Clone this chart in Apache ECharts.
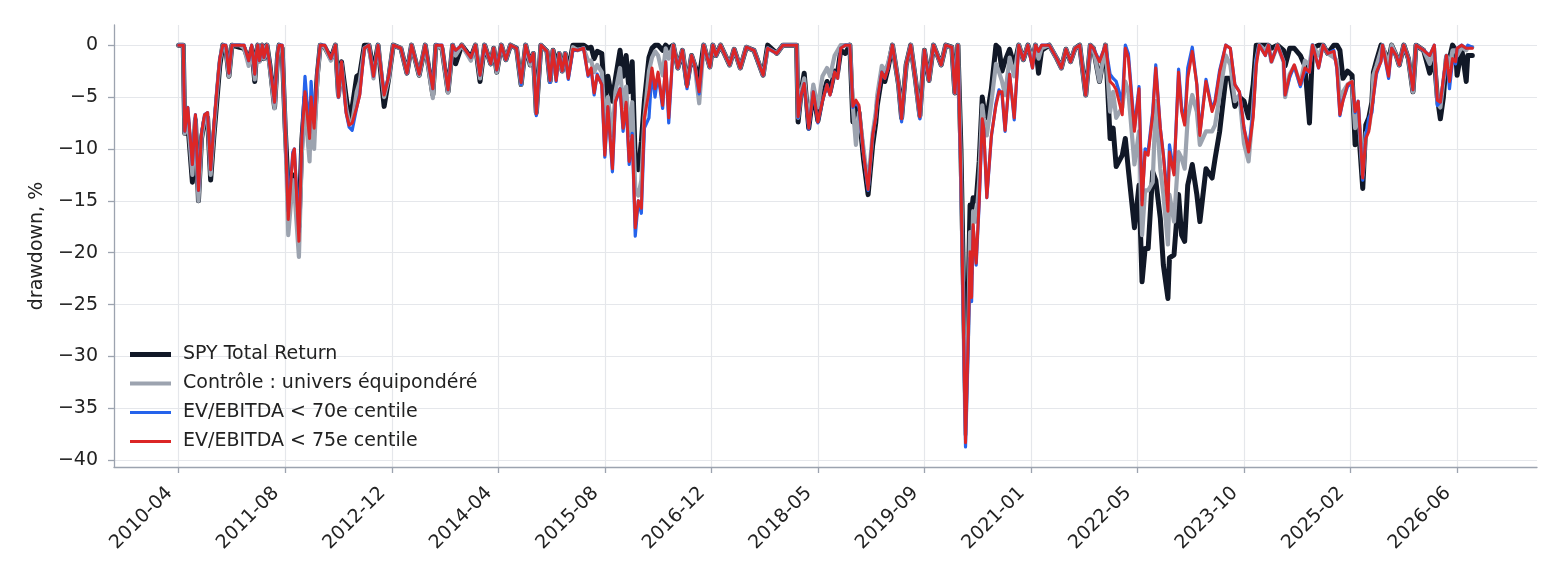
<!DOCTYPE html>
<html>
<head>
	<meta http-equiv="Content-Type" content="text/html; charset=utf-8" />
	<title>drawdown</title>
	<style>
		html, body { margin: 0; padding: 0; background: #fff; }
		#main { width: 1563px; height: 578px; }
	</style>
</head>
<body>
	<div id="main"></div>
	<script src="https://cdn.jsdelivr.net/npm/echarts@6.0.0/dist/echarts.min.js"></script>
	<script type="text/javascript">
		// x = weeks since 2010-04, one label every 70 weeks
		var tickWeeks = [0, 70, 140, 210, 280, 350, 420, 490, 560, 630, 700, 770, 840];
		var dateLabels = ['2010-04', '2011-08', '2012-12', '2014-04', '2015-08', '2016-12', '2018-05',
			'2019-09', '2021-01', '2022-05', '2023-10', '2025-02', '2026-06'];
		var yTicks = [-40, -35, -30, -25, -20, -15, -10, -5, 0];

		var weeks = [0,3,4,6,9,11,13,15,17,19,
			21,23,25,27,29,31,33,35,40,43,
			46,48,50,51,52,53,55,56,58,60,
			63,65,66,68,70,72,75,76,79,81,
			83,86,87,89,91,93,96,100,103,105,
			107,110,112,114,117,119,122,125,128,131,
			135,138,141,146,150,153,158,162,167,169,
			173,177,180,182,186,192,195,198,201,205,
			207,209,212,215,218,222,225,228,231,233,
			235,238,242,244,246,248,250,252,254,256,
			259,262,266,269,271,273,275,278,280,282,
			285,287,290,292,294,296,298,300,302,304,
			306,309,311,313,315,318,320,322,325,328,
			331,334,337,339,342,345,349,351,353,356,
			362,365,369,373,378,384,387,393,397,406,
			407,409,411,414,417,420,423,426,428,431,
			433,435,438,441,443,445,447,450,453,456,
			458,459,462,464,466,469,473,475,478,481,
			484,487,490,493,496,501,504,508,510,512,
			514,517,519,520,521,522,524,526,528,529,
			531,534,537,539,541,543,546,549,552,555,
			558,561,563,565,567,572,577,580,583,586,
			589,592,596,599,601,605,609,612,614,616,
			620,622,624,628,631,633,635,637,640,642,
			645,647,650,651,654,657,659,661,663,666,
			669,671,675,679,681,684,688,691,694,697,
			700,703,706,708,710,714,716,718,722,726,
			727,730,733,737,740,743,745,749,752,755,
			759,761,763,765,768,771,773,775,778,780,
			782,784,785,787,790,791,795,797,800,802,
			805,808,811,813,818,822,825,827,829,831,
			833,835,837,839,840,843,846,847,850];

		var spy = [0,0,-8.5,-7.5,-13.2,-7.2,-15,-9,-7.2,-7,
			-13,-9,-5.5,-2,0,-0.3,-3,0,-0.2,-0.3,
			-1.5,-0.3,-3.5,-1,0,-1.5,0,-1.3,0,-2,
			-6,-1,0,-0.3,-8,-14,-12.5,-12.8,-17.5,-9,
			-5,-10,-5.5,-8,-3,0,-0.2,-1.3,0,-4.8,
			-1.6,-5,-7,-6,-3,-2.8,0,0,-2.5,0,
			-5.9,-3.2,0,-0.3,-2.7,0,-2.9,0,-4.8,0,
			-0.3,-4.5,0,-1.8,0,-1.2,0,-3.5,0,-1.8,
			-0.3,-2.6,0,-1.4,0,-0.3,-3.8,0,-1.9,-0.8,
			-6.5,0,-0.6,-3.5,-0.5,-2,-0.8,-2.5,-0.8,-2.5,
			0,0,0,-0.3,-0.2,-1.3,-0.6,-0.8,-5.4,-3,
			-5.4,-3.2,-0.5,-3,-1,-4.5,-1.6,-11.2,-12,-9.3,
			-5.4,-1.2,-0.3,0,0,-0.5,0,-0.3,0,-2.2,
			-0.5,-3.8,-1,-1.9,-3.2,0,-2.1,0,-1,0,
			-1.9,-0.4,-2.2,-0.2,-0.5,-2.9,0,-0.8,0,0,
			-7.4,-4.5,-2.7,-8,-4.5,-7.3,-5,-3.5,-4.5,-2.5,
			-2.6,-0.5,-0.8,0,-7.4,-6,-6.5,-11,-14.4,-9.6,
			-7.5,-5.8,-3,-3.5,-2.3,0,-3.8,-7,-1.9,0,
			-3.2,-6.8,-0.5,-3.4,0,-1.9,0,-0.2,-4.6,0,
			-10,-33.7,-22.4,-15.4,-16,-14.7,-15,-11.2,-5,-6,
			-7,-4.2,0,-0.3,-2.5,-1.5,-0.4,-2,0,-1.4,
			0,-1.5,0,-2.7,-0.5,0,-1.3,-2.2,-0.4,-1.6,
			-0.3,0,-4.8,0,-0.3,-3.5,0,-9,-8,-11.7,
			-10.6,-9,-12,-17.6,-13.5,-22.8,-19.6,-19.6,-12.2,-13,
			-16.7,-21.2,-24.4,-20.5,-20.2,-14.4,-18.3,-18.9,-13.5,-11.5,
			-14.4,-17,-11.9,-12.8,-10.9,-8.3,-3.2,-3.2,-5.9,-5,
			-5.4,-7,-3.8,0,0,0,0,-0.3,0,-0.5,
			-2,-0.3,-0.3,-1,-2,-7.5,-0.3,0,0,-0.8,
			0,0,-0.5,-3.2,-2.5,-2.9,-9.6,-7.5,-13.8,-7.7,
			-7,-5.5,-2.6,-1.5,0,0,-1.5,0,-1,-1.9,
			0,-1.3,-4.5,0,-0.5,-2.7,-1.3,-5,-7.1,-5,
			-1.2,-1.3,0,-0.5,-2.9,-0.3,-3.5,-1,-1];

		var ctrl = [0,0,-8.5,-7,-12.5,-7,-15,-9,-7,-7,
			-12.5,-8.5,-4.8,-1.5,0,-0.3,-3,0,0,-0.3,
			-2,-0.3,-3.3,-1,0,-1.6,0,-1.3,0,-2.2,
			-6.1,-1,0,-0.2,-8,-18.3,-13,-14,-20.4,-10,
			-6,-11.2,-6,-10,-3.5,0,-0.2,-1.5,0,-5,
			-1.8,-6,-7.5,-7.5,-4.5,-3.5,-0.3,0,-3.2,0,
			-5,-3.2,0,-0.3,-2.7,0,-2.9,0,-5.1,0,
			-0.3,-4.6,0,-1,0,-1.5,0,-3.2,0,-1.8,
			-0.3,-2.6,0,-1.4,0,-0.3,-3.8,0,-1.9,-0.8,
			-6.6,0,-0.6,-3.5,-0.5,-3,-0.8,-2.5,-0.8,-3,
			-0.2,-0.5,-0.3,-1.5,-1.5,-2.6,-1.9,-2.6,-7.5,-5,
			-8.7,-4.5,-2.2,-6,-4,-8.7,-5.5,-13.8,-14.5,-13,
			-7,-2.5,-1.2,-0.6,-1,-2.9,-0.3,-1.3,0,-2.2,
			-0.5,-3.8,-1,-1.9,-5.6,0,-2.1,0,-1,0,
			-1.9,-0.4,-2.2,-0.2,-0.5,-2.9,-0.3,-0.8,0,0,
			-7,-4.5,-3.2,-7.5,-3.8,-6,-3,-2.2,-3,-1,
			-0.5,0,0,0,-6,-9.6,-6.5,-10,-13.5,-8.5,
			-6.5,-4.8,-2,-2.5,-1.8,0,-3.8,-7,-1.9,0,
			-3.2,-7,-0.5,-3.4,0,-1.9,0,-0.2,-4.6,0,
			-12,-37.5,-26,-18,-22,-16,-17,-13,-5.8,-7,
			-8.7,-5.5,-1.8,-2.6,-3.5,-4.8,-1.2,-3,0,-1.4,
			0,-1.6,0,-1.3,-0.3,0,-1.3,-2.2,-0.4,-1.6,
			-0.3,0,-4.8,0,-0.3,-3.5,0,-6.4,-4.5,-7,
			-6,-3.5,-4.5,-11.5,-8.3,-18.3,-14,-14,-13.2,-5.4,
			-11.9,-14.4,-19.2,-14.4,-17,-10.3,-10.9,-11.9,-7,-4.8,
			-6.4,-9.6,-8.3,-8.3,-7.7,-4.8,-1,-1.9,-5.4,-4.8,
			-9.5,-11.2,-6,-1.5,0,-0.5,0,-1.6,0,-1.6,
			-5,-2.8,-2,-3.8,-1.5,-1.9,0,-1,0,-0.8,
			-1.2,-1.5,-5.4,-4.5,-3.8,-3.5,-8,-6,-12.5,-8.5,
			-8,-6,-2.9,-2,-0.5,0,-2,0,-1,-1.9,
			0,-1.3,-4.5,0,-0.5,-1.8,-0.3,-5.6,-6,-3.5,
			-1,-2,-0.5,-0.5,-1,-0.2,-0.5,-0.2,-0.2];

		var ev70 = [0,0,-8.3,-6,-11.5,-6.7,-14,-8.5,-6.7,-6.5,
			-12,-8,-4.5,-1.3,0,0,-2.7,0,0,0,
			-1.5,0,-2.8,-0.8,0,-1.5,0,-1.2,0,-2,
			-5.5,-0.8,0,0,-8,-16,-10.3,-10,-18,-8.5,
			-3,-8.5,-3.5,-7.5,-2.5,0,0,-1.3,0,-5,
			-1.6,-6.5,-7.9,-8.2,-6,-4.7,-0.3,0,-3,0,
			-4.7,-3,0,-0.3,-2.7,0,-2.8,0,-4.2,0,
			0,-4.3,0,-0.5,0,-1.2,0,-2.9,0,-1.8,
			-0.3,-2.4,0,-1.4,0,-0.3,-3.8,0,-1.6,-0.8,
			-6.8,0,-0.6,-3.6,-0.5,-3.5,-0.8,-2.5,-0.8,-3.3,
			-0.5,-0.5,-0.3,-3,-2.3,-4.8,-2.8,-3.8,-10.8,-6,
			-12.2,-5.5,-4.2,-8.3,-5.7,-11.5,-8.5,-18.4,-15,-16.2,
			-8,-7,-2.5,-5,-2.8,-6.1,-1.6,-7.5,0,-2.2,
			-0.5,-4.2,-1,-1.9,-4.7,0,-2.1,0,-1,0,
			-1.9,-0.4,-2.2,-0.2,-0.5,-2.9,-0.3,-0.8,0,0,
			-7,-4.8,-3.7,-8.1,-4.5,-7.5,-5.4,-3.8,-4.8,-2.6,
			-3.2,-0.3,0,0,-6,-5.5,-6,-10.5,-14,-8.7,
			-7,-5.4,-2.6,-3.2,-2.3,0,-3.8,-7.4,-1.9,0,
			-3.2,-7.1,-0.5,-3.4,0,-1.9,0,-0.2,-4.6,0,
			-13,-38.7,-27.6,-20.5,-24.7,-17.5,-21.2,-15.2,-7.2,-8.2,
			-14.7,-8.8,-5.6,-4.3,-4.8,-8.3,-2.8,-7.2,0,-1.4,
			0,-2.2,0,-0.6,0,0,-1.3,-2.2,-0.4,-1.6,
			-0.3,0,-4.8,0,-0.3,-1.5,0,-2.8,-3.2,-3.5,
			-5.5,0,-0.8,-8,-4,-15,-10,-10.2,-6.4,-1.9,
			-8,-10.5,-15,-9.6,-12.3,-2.3,-6,-7.5,-2.2,-0.2,
			-3.8,-8.5,-3.3,-6.2,-5.3,-2.4,0,-0.3,-3.8,-4.5,
			-8,-10,-6.5,-1.5,0,-1,0,-1.6,0,-1.6,
			-4.8,-3.1,-2,-4,-2.5,-2.6,0,-2.2,0,-0.8,
			-0.5,-2.3,-6.8,-5.3,-4,-3.6,-6.5,-5.4,-13,-8.7,
			-7,-6.5,-5,-2.8,-1.5,0,-3.2,-0.3,-1,-1.9,
			0,-1.3,-4.3,0,-0.5,-1,0,-5.8,-5.5,-3.3,
			-1,-4.2,-1.5,-1.8,-0.3,0,-0.3,0,-0.2];

		var ev75 = [0,0,-8.3,-6,-11.5,-6.7,-14,-8.5,-6.7,-6.5,
			-12,-8,-4.5,-1.3,0,0,-2.7,0,0,0,
			-1.5,0,-2.8,-0.8,0,-1.5,0,-1.2,0,-2,
			-5.5,-0.8,0,0,-8,-16.8,-10.5,-10,-18.9,-8.7,
			-4.5,-9,-5,-8,-2.5,0,0,-1.3,0,-5,
			-1.6,-6.5,-7.7,-7.5,-6,-4.8,-0.3,0,-3,0,
			-4.8,-3,0,-0.3,-2.7,0,-2.8,0,-4.2,0,
			0,-4.3,0,-0.5,0,-1.2,0,-2.9,0,-1.8,
			-0.3,-2.4,0,-1.4,0,-0.3,-3.6,0,-1.6,-0.8,
			-6.6,0,-0.6,-3.4,-0.5,-3.4,-0.8,-2.5,-0.8,-3.2,
			-0.4,-0.5,-0.3,-2.9,-2.2,-4.6,-2.9,-3.8,-10.6,-5.9,
			-11.9,-5.4,-4.2,-8,-5.5,-11.2,-8.7,-17.6,-15,-15.7,
			-7,-4.5,-2.2,-4.2,-2.6,-5.8,-1.6,-7,0,-2.2,
			-0.5,-4,-1,-1.9,-4.5,0,-2.1,0,-1,0,
			-1.9,-0.4,-2.2,-0.2,-0.5,-2.9,-0.3,-0.8,0,0,
			-6.9,-4.8,-3.7,-8,-4.5,-7.4,-5.4,-3.8,-4.8,-2.6,
			-3.2,-0.3,0,0,-5.9,-5.3,-5.8,-10.5,-13.9,-8.7,
			-7,-5.4,-2.6,-3.2,-2.3,0,-3.8,-7.1,-1.9,0,
			-3.2,-6.9,-0.5,-3.4,0,-1.9,0,-0.2,-4.6,0,
			-13,-38.3,-26.9,-19.9,-24.3,-17.3,-21,-15,-7.1,-8,
			-14.7,-8.7,-5.8,-4.5,-4.5,-8.2,-2.8,-7,0,-1.4,
			0,-2.2,0,-0.6,0,0,-1.3,-2.2,-0.4,-1.6,
			-0.3,0,-4.8,0,-0.3,-1.6,0,-3.5,-3.8,-4.3,
			-6.7,-0.3,-1.2,-8.3,-4.2,-15.4,-10.3,-10.6,-6.6,-2.2,
			-8,-10.6,-16,-10.3,-12.5,-2.6,-6.4,-7.7,-3.2,-0.6,
			-3.8,-8.7,-3.5,-6.4,-5.5,-2.6,0,-0.3,-3.8,-4.5,
			-8,-10.3,-7,-2,0,-1,0,-1.6,0,-1.6,
			-4.8,-2.9,-1.9,-3.8,-2.2,-2.6,0,-2.2,0,-0.8,
			-0.6,-2.2,-6.7,-5.4,-3.8,-3.5,-6.4,-5.4,-12.8,-9,
			-8.3,-6.1,-5,-2.6,-1.6,0,-3,-0.3,-1,-1.9,
			0,-1.3,-4.3,0,-0.5,-1,0,-5.3,-5.5,-3.2,
			-1,-3.5,-1.3,-1.6,-0.3,0,-0.3,-0.2,-0.3];

		var names = ['SPY Total Return', 'Contrôle : univers équipondéré', 'EV/EBITDA < 70e centile', 'EV/EBITDA < 75e centile'];
		var colors = ['#111827', '#9ca3af', '#2563eb', '#dc2626'];
		var widths = [5, 4.2, 3.2, 3];
		var values = [spy, ctrl, ev70, ev75];

		var font = 'DejaVu Sans';
		var fontSize = 19;
		var textColor = '#222222';
		var spineColor = '#9ca3af';
		var gridColor = '#e5e7eb';

		function pairs(arr) {
			return weeks.map(function (w, i) { return [w, arr[i]]; });
		}

		var series = names.map(function (n, k) {
			return {
				name: n,
				type: 'line',
				data: pairs(values[k]),
				symbol: 'none',
				color: colors[k],
				lineStyle: { width: widths[k], color: colors[k], join: 'round', cap: 'round' },
				animation: false
			};
		});

		var legendTops = [345, 374, 403, 432];
		var legends = names.map(function (n, k) {
			return {
				data: [n],
				left: 130,
				top: legendTops[k],
				padding: 0,
				icon: 'rect',
				itemWidth: 41,
				itemHeight: widths[k],
				selectedMode: false,
				textStyle: { fontFamily: font, fontSize: fontSize, color: textColor, padding: [0, 0, 0, 7] }
			};
		});

		var myChart = echarts.init(document.getElementById('main'), null, { renderer: 'canvas' });
		myChart.setOption({
			backgroundColor: '#ffffff',
			animation: false,
			textStyle: { fontFamily: font },
			grid: { left: 114, right: 26, top: 25, bottom: 111, containLabel: false, outerBoundsMode: 'none' },
			legend: legends,
			xAxis: {
				type: 'value',
				min: -42.5,
				max: 892.5,
				axisLine: { show: true, onZero: false, lineStyle: { color: spineColor, width: 1.3 } },
				axisTick: { show: true, length: 6, customValues: tickWeeks, lineStyle: { color: spineColor, width: 1.3 } },
				axisLabel: {
					customValues: tickWeeks,
					rotate: 45,
					margin: 14,
					padding: [0, 13, 0, 0],
					fontFamily: font,
					fontSize: fontSize,
					color: textColor,
					formatter: function (v) {
						var i = tickWeeks.indexOf(Math.round(v));
						return i >= 0 ? dateLabels[i] : '';
					}
				},
				splitLine: { show: true, lineStyle: { color: gridColor, width: 1.2 } }
			},
			yAxis: {
				type: 'value',
				min: -40.64,
				max: 1.94,
				name: 'drawdown, %',
				nameLocation: 'middle',
				nameGap: 66,
				nameTextStyle: { fontFamily: font, fontSize: fontSize, color: textColor },
				axisLine: { show: true, onZero: false, lineStyle: { color: spineColor, width: 1.3 } },
				axisTick: { show: true, length: 6, customValues: yTicks, lineStyle: { color: spineColor, width: 1.3 } },
				axisLabel: {
					customValues: yTicks,
					margin: 16,
					fontFamily: font,
					fontSize: fontSize,
					color: textColor,
					formatter: function (v) {
						return v < 0 ? '\u2212' + Math.abs(v) : String(v);
					}
				},
				splitLine: { show: true, lineStyle: { color: gridColor, width: 1.2 } }
			},
			series: series
		});
	</script>
</body>
</html>
